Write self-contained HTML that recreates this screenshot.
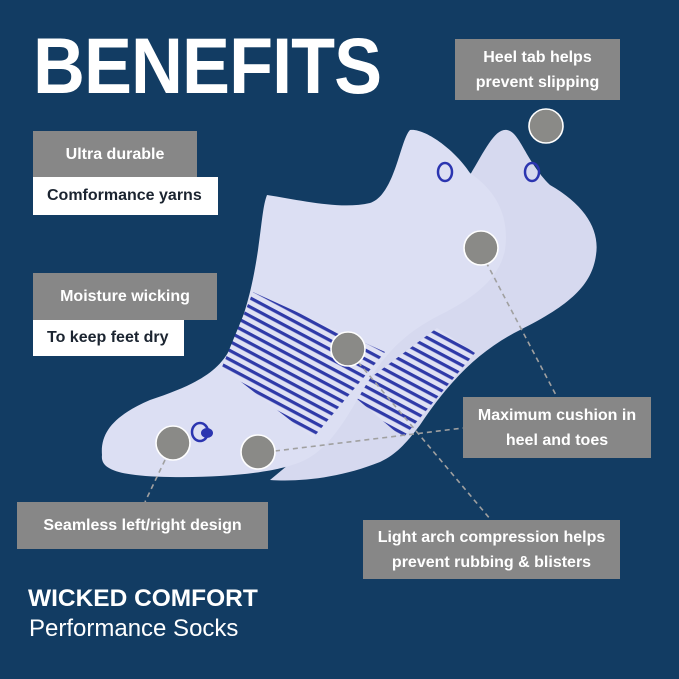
<!DOCTYPE html>
<html><head><meta charset="utf-8"><style>
html,body{margin:0;padding:0}
body{width:679px;height:679px;background:#123c63;position:relative;overflow:hidden;font-family:"Liberation Sans",sans-serif}
.t{position:absolute;font-weight:bold;color:#fff}
.g{position:absolute;background:#878787;color:#fff;font-weight:bold;font-size:16px;text-align:center;box-sizing:border-box;display:flex;align-items:center;justify-content:center;line-height:25px}
.w{position:absolute;background:#fff;color:#1b2430;font-size:16px;box-sizing:border-box;display:flex;align-items:center;padding-left:14px;font-weight:bold}
svg{position:absolute;left:0;top:0}
</style></head><body>
<svg width="679" height="679" viewBox="0 0 679 679">
<defs>
<pattern id="st" width="8" height="8" patternUnits="userSpaceOnUse" patternTransform="rotate(28)">
<rect width="8" height="8" fill="#dfe1f4"/><rect width="8" height="3.2" fill="#2f3aa8"/>
</pattern>
</defs>
<path d="M470,175 C485,150 495,128 507,130 C520,132 525,160 550,185 C585,205 600,230 596,255 C592,285 570,305 520,330 C480,350 450,380 420,425 C405,445 395,455 380,462 C340,478 300,482 270,480 L300,455 L400,300 Z" fill="#d6d9ef"/>
<path d="M437,328 L475,353 L403,438 L350,393 Z" fill="url(#st)"/>
<path d="M267,195 C300,200 340,210 370,203 C395,195 400,140 410,130 C425,128 455,150 470,173 C495,190 510,215 505,250 C500,275 480,295 440,315 C400,335 380,360 360,395 C340,430 325,450 305,460 C285,470 240,478 170,477 C120,476 100,470 102,455 C100,432 115,415 150,400 C195,385 220,372 232,345 C245,315 252,290 258,250 C262,222 263,205 267,195 Z" fill="#dcdff3"/>
<path d="M253,292 L385,352 L313,438 L222,367 Z" fill="url(#st)"/>
<ellipse cx="445" cy="172" rx="7" ry="9" fill="none" stroke="#2b35b0" stroke-width="2.5"/>
<ellipse cx="532" cy="172" rx="7" ry="9" fill="none" stroke="#2b35b0" stroke-width="2.5"/>
<ellipse cx="200" cy="432" rx="8" ry="9" fill="none" stroke="#2b35b0" stroke-width="2.5"/>
<ellipse cx="207" cy="433" rx="6" ry="5" fill="#2b35b0"/>
<g stroke="#a0a0a0" stroke-width="1.6" stroke-dasharray="5,4" fill="none">
<line x1="486" y1="262" x2="557" y2="397"/>
<line x1="275" y1="451" x2="463" y2="428"/>
<line x1="358" y1="362" x2="491" y2="520"/>
<line x1="165" y1="460" x2="145" y2="502"/>
</g>
<g fill="#8a8a87" stroke="#fff" stroke-width="1.6">
<circle cx="546" cy="126" r="17"/>
<circle cx="481" cy="248" r="17"/>
<circle cx="348" cy="349" r="17"/>
<circle cx="173" cy="443" r="17"/>
<circle cx="258" cy="452" r="17"/>
</g>
</svg>
<div class="t" style="left:33px;top:26px;font-size:79px;letter-spacing:-1px;line-height:80px;transform:scaleX(0.91);transform-origin:0 0">BENEFITS</div>
<div class="g" style="left:455px;top:39px;width:165px;height:61px">Heel tab helps<br>prevent slipping</div>
<div class="g" style="left:33px;top:131px;width:164px;height:46px">Ultra durable</div>
<div class="w" style="left:33px;top:177px;width:185px;height:38px">Comformance yarns</div>
<div class="g" style="left:33px;top:273px;width:184px;height:47px">Moisture wicking</div>
<div class="w" style="left:33px;top:320px;width:151px;height:36px">To keep feet dry</div>
<div class="g" style="left:463px;top:397px;width:188px;height:61px">Maximum cushion in<br>heel and toes</div>
<div class="g" style="left:17px;top:502px;width:251px;height:47px">Seamless left/right design</div>
<div class="g" style="left:363px;top:520px;width:257px;height:59px">Light arch compression helps<br>prevent rubbing &amp; blisters</div>
<div class="t" style="left:28px;top:585px;font-size:24px;line-height:28px;transform:scaleX(1.02);transform-origin:0 0">WICKED COMFORT</div>
<div style="position:absolute;left:29px;top:615px;font-size:24px;color:#fff;line-height:28px">Performance Socks</div>
</body></html>
